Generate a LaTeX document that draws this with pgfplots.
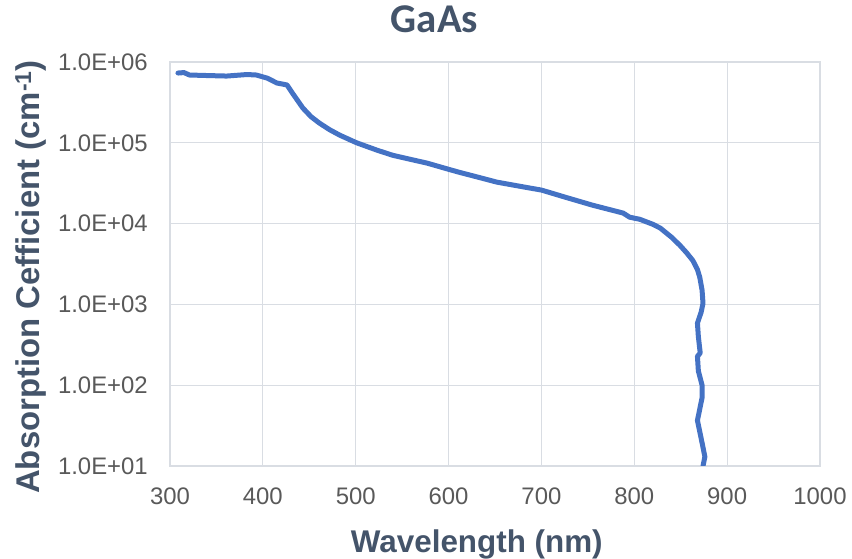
\documentclass[border=0pt]{standalone}
\usepackage{pgfplots}
\pgfplotsset{compat=1.18}
\usepackage{fontspec}
\setmainfont{Liberation Sans}
\newfontfamily\titlefont{Carlito}
\definecolor{curve}{HTML}{4472C4}
\definecolor{gridc}{HTML}{D9DDE3}
\definecolor{tickc}{HTML}{595959}
\definecolor{labc}{HTML}{44546A}
\begin{document}
\begin{tikzpicture}
\useasboundingbox (-170bp,-93bp) rectangle (682bp,466bp);
\begin{axis}[
  at={(0,0)}, anchor=south west,
  scale only axis, width=650bp, height=404bp,
  xmin=300, xmax=1000, ymin=10, ymax=1e6,
  ymode=log, log basis y=10,
  xtick={300,400,...,1000},
  ytick={10,100,1000,10000,100000,1000000},
  yticklabels={1.0E+01,1.0E+02,1.0E+03,1.0E+04,1.0E+05,1.0E+06},
  minor ytick={}, 
  major tick length=0pt,
  grid=major,
  major grid style={draw=gridc, line width=1.2bp},
  axis line style={draw=gridc, line width=1.2bp},
  /pgf/number format/assume math mode=true,
  /pgf/number format/set thousands separator={},
  tick label style={font=\fontsize{24}{28}\selectfont, text=tickc, inner sep=0pt},
  yticklabel style={anchor=east, xshift=-22bp},
  xticklabel style={anchor=north, yshift=-22bp},
  title={\titlefont\bfseries GaAs},
  title style={at={(axis description cs:0.407,1.058)}, anchor=base, font=\fontsize{41}{45}\selectfont, text=labc, inner sep=0pt},
  xlabel={\bfseries Wavelength (nm)},
  xlabel style={at={(axis description cs:0.472,-0.213)}, anchor=base, font=\fontsize{31.5}{35}\selectfont, text=labc, inner sep=0pt},
  ylabel={\bfseries Absorption Cefficient (cm\textsuperscript{-1})},
  ylabel style={at={(axis description cs:-0.2,0.468)}, anchor=base, font=\fontsize{33}{37}\selectfont, text=labc, inner sep=0pt},
]
\addplot[curve, line width=5bp, line join=round, line cap=round] coordinates {
(308.6,7.3e5) (315,7.4e5) (321,6.9e5) (340,6.8e5) (361,6.7e5) (383,7.0e5)
(393,6.9e5) (405,6.3e5) (415,5.5e5) (426,5.2e5) (432,4.1e5) (443,2.7e5)
(452,2.1e5) (461,1.75e5) (472,1.45e5) (483,1.24e5) (501,1.0e5) (523,8.1e4)
(540,7.0e4) (560,6.2e4) (577,5.6e4) (600,4.7e4) (612,4.3e4) (630,3.8e4)
(652,3.26e4) (684,2.8e4) (700,2.6e4) (727,2.1e4) (755,1.69e4) (788,1.35e4)
(795,1.2e4) (806,1.13e4) (820,9.8e3) (828,8.8e3) (840,6.8e3) (849,5.4e3)
(856,4.4e3) (863,3.5e3) (868,2.7e3) (870.5,2.17e3) (873,1.5e3) (874,1.03e3)
(872,800) (868,587) (869,400) (871,250) (868,228) (869,150) (873,100)
(873,70) (868,36.6) (871,25) (874,17) (876,13) (874,10)
};
\end{axis}
\end{tikzpicture}
\end{document}
